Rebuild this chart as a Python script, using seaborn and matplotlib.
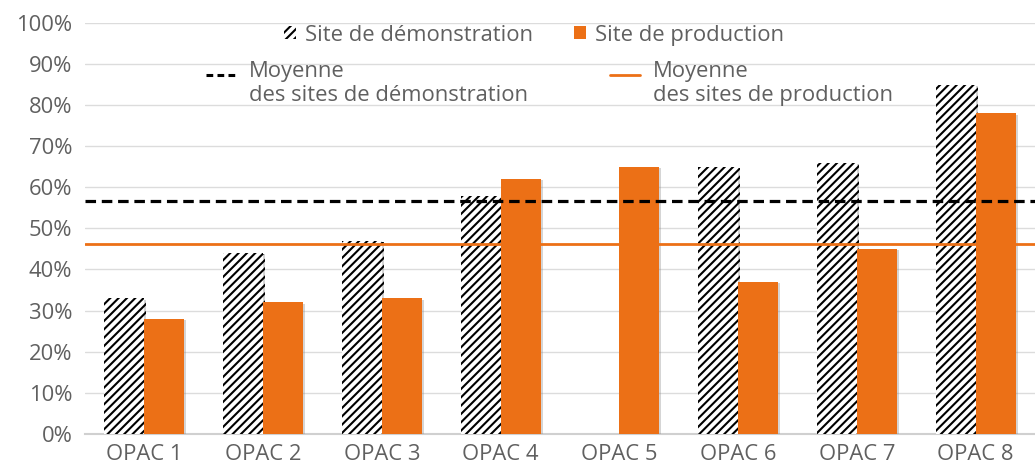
import numpy as np
import pandas as pd
import seaborn as sns
import matplotlib.pyplot as plt
import matplotlib.patheffects as pe
from matplotlib.patches import Patch
from matplotlib.lines import Line2D
from matplotlib.ticker import PercentFormatter

sns.set_style('white')
plt.rcParams['font.family'] = ['Open Sans', 'DejaVu Sans']
plt.rcParams['hatch.linewidth'] = 1.5

sites = ['OPAC 1', 'OPAC 2', 'OPAC 3', 'OPAC 4', 'OPAC 5', 'OPAC 6', 'OPAC 7', 'OPAC 8']
demo = [33, 44, 47, 58, np.nan, 65, 66, 85]
prod = [28, 32, 33, 62, 65, 37, 45, 78]
mean_demo = 56.7
mean_prod = 46.2

orange = '#EC7016'
gray_txt = '#606060'
fs = 15.8

df = pd.DataFrame({'site': sites * 2,
                   'valeur': demo + prod,
                   'type': ['Site de démonstration'] * 8 + ['Site de production'] * 8})

fig, ax = plt.subplots(figsize=(10.35, 4.68), dpi=100)
fig.subplots_adjust(left=0.082, right=1.0, top=0.951, bottom=0.073)

sns.barplot(data=df, x='site', y='valeur', hue='type', ax=ax,
            palette=['white', orange], saturation=1, width=0.674,
            linewidth=0, legend=False, zorder=3)

shadow = [pe.SimplePatchShadow(offset=(1.5, -1), shadow_rgbFace='#888888', alpha=0.35),
          pe.Normal()]
for bar in ax.containers[0]:
    bar.set_facecolor('white')
    bar.set_edgecolor('black')
    bar.set_hatch('////')
    bar.set_linewidth(0)
for c in ax.containers:
    for bar in c:
        bar.set_path_effects(shadow)

ax.axhline(mean_demo, color='black', lw=2.3, ls=(0, (3.3, 1.8)), zorder=4)
ax.axhline(mean_prod, color=orange, lw=2, zorder=4)

ax.set_xlim(-0.5, 7.5)
ax.set_ylim(0, 100)
ax.set_yticks(range(0, 101, 10))
ax.yaxis.set_major_formatter(PercentFormatter(decimals=0))
ax.grid(axis='y', color='#dcdcdc', lw=1, zorder=0)
ax.set_xlabel('')
ax.set_ylabel('')
for s in ['top', 'right', 'left']:
    ax.spines[s].set_visible(False)
ax.spines['bottom'].set_color('#d0d0d0')
ax.spines['bottom'].set_linewidth(1.5)
ax.tick_params(axis='both', length=0, labelsize=fs, labelcolor=gray_txt)
ax.tick_params(axis='x', pad=7)
ax.tick_params(axis='y', pad=9)

h1 = [Patch(facecolor='white', edgecolor='black', hatch='////', lw=0),
      Patch(facecolor=orange, lw=0)]
fig.legend(h1, ['Site de démonstration', 'Site de production'],
           loc='center', bbox_to_anchor=(0.516, 0.925), ncol=2,
           frameon=False, fontsize=fs, handlelength=0.55, handleheight=0.55,
           handletextpad=0.4, columnspacing=1.9, labelcolor=gray_txt)

# légende des moyennes : trait + texte sur deux lignes
H = 468.0
W = 1035.0
fig.add_artist(Line2D([206 / W, 238 / W], [1 - 75 / H, 1 - 75 / H], color='black',
                      lw=2.2, ls=(0, (2.2, 1.4))))
fig.text(249 / W, 1 - 61 / H, 'Moyenne\ndes sites de démonstration', ha='left', va='top',
         fontsize=fs, color=gray_txt, linespacing=1.2)
fig.add_artist(Line2D([610 / W, 640 / W], [1 - 75 / H, 1 - 75 / H], color=orange, lw=2))
fig.text(653 / W, 1 - 61 / H, 'Moyenne\ndes sites de production', ha='left', va='top',
         fontsize=fs, color=gray_txt, linespacing=1.2)

plt.savefig('out.png', dpi=100)
